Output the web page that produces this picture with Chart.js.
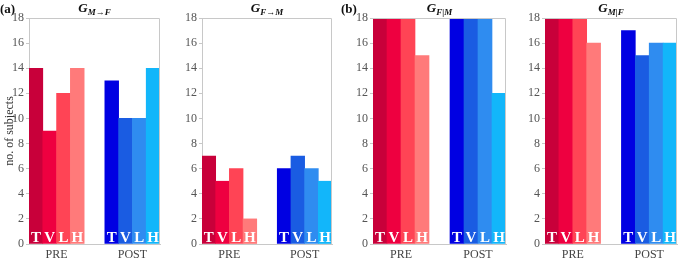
<!DOCTYPE html>
<html>
<head>
<meta charset="utf-8">
<script src="https://cdn.jsdelivr.net/npm/chart.js@4"></script>
<style>
  body { margin: 0; background: #fff; }
  #wrap { position: relative; width: 678px; height: 260px; overflow: hidden; font-family: "Liberation Serif", serif; }
  #wrap canvas { position: absolute; top: 0; }
  .ttl { position: absolute; top: 0px; text-align: center; font-weight: bold; font-style: italic; font-size: 13px; color: #111; white-space: nowrap; }
  .ttl sub { font-size: 9px; vertical-align: -3px; }
  .tag { position: absolute; top: 1px; font-weight: bold; font-size: 13px; color: #111; }
</style>
</head>
<body>
<div id="wrap">
  <canvas id="c1" width="163" height="260" style="left:0px"></canvas>
  <canvas id="c2" width="160" height="260" style="left:175px"></canvas>
  <canvas id="c3" width="163" height="260" style="left:346px"></canvas>
  <canvas id="c4" width="160" height="260" style="left:518px"></canvas>
  <div class="tag" style="left:0px">(a)</div>
  <div class="tag" style="left:341px">(b)</div>
  <div class="ttl" style="left:29px;width:131px">G<sub>M→F</sub></div>
  <div class="ttl" style="left:202px;width:130px">G<sub>F→M</sub></div>
  <div class="ttl" style="left:373px;width:133px">G<sub>F|M</sub></div>
  <div class="ttl" style="left:545px;width:132px">G<sub>M|F</sub></div>
</div>
<script>
const groups = ["PRE", "POST"];
const letters = ["T", "V", "L", "H"];
const yTicks = [0, 2, 4, 6, 8, 10, 12, 14, 16, 18];

// G M->F
const mfPre = [14, 9, 12, 14];
const mfPost = [13, 10, 10, 14];
// G F->M
const fmPre = [7, 5, 6, 2];
const fmPost = [6, 7, 6, 5];
// G F|M
const fgmPre = [18, 18, 18, 15];
const fgmPost = [18, 18, 18, 12];
// G M|F
const mgfPre = [18, 18, 18, 16];
const mgfPost = [17, 15, 16, 16];

const preColors = ["#c8003a", "#ee0040", "#ff4455", "#ff7a7a"];
const postColors = ["#0000e2", "#1a5ce2", "#2f8cf0", "#12b6fa"];
const spine = "#c8c8c8";
const serif = "'Liberation Serif', serif";

// bars sit side by side, POST group shifted by 4 bars + 1.5 bar gap
function points(pre, post) {
  return pre.map((v, i) => ({ x: i + 1, y: v }))
    .concat(post.map((v, i) => ({ x: i + 6.5, y: v })));
}

const boxPlugin = {
  id: "box",
  afterDatasetsDraw(chart) {
    const { ctx, chartArea: a } = chart;
    const meta = chart.getDatasetMeta(0);
    ctx.save();
    ctx.fillStyle = "#fff";
    ctx.font = "bold 15px " + serif;
    ctx.textAlign = "center";
    ctx.textBaseline = "alphabetic";
    meta.data.forEach((bar, i) => {
      ctx.fillText(letters[i % 4], bar.x, a.bottom - 2);
    });
    ctx.strokeStyle = spine;
    ctx.lineWidth = 1;
    ctx.beginPath();
    ctx.moveTo(a.left, a.top + 0.5);
    ctx.lineTo(a.right - 0.5, a.top + 0.5);
    ctx.lineTo(a.right - 0.5, a.bottom);
    ctx.stroke();
    ctx.restore();
  }
};

function makeChart(id, pre, post, yWidth, padRight, withTitle) {
  new Chart(document.getElementById(id), {
    type: "bar",
    data: {
      datasets: [{
        data: points(pre, post),
        backgroundColor: preColors.concat(postColors),
        borderWidth: 0,
        barPercentage: 1,
        categoryPercentage: 1
      }]
    },
    options: {
      responsive: false,
      animation: false,
      layout: { padding: { top: 18, right: padRight, bottom: 0, left: 0 } },
      plugins: { legend: { display: false }, tooltip: { enabled: false } },
      scales: {
        x: {
          type: "linear",
          min: 0.5,
          max: 10,
          offset: false,
          grid: { display: false, drawTicks: false, tickLength: 0 },
          border: { display: true, color: spine },
          afterBuildTicks: s => { s.ticks = [{ value: 2.5 }, { value: 8 }]; },
          afterFit: s => { s.height = 16; },
          ticks: {
            padding: 4,
            color: "#444",
            font: { family: serif, size: 12 },
            callback: (v, i) => groups[i]
          }
        },
        y: {
          min: 0,
          max: 18,
          grid: { drawOnChartArea: false, tickLength: 3, color: spine },
          border: { color: spine },
          afterBuildTicks: s => { s.ticks = yTicks.map(v => ({ value: v })); },
          afterFit: s => { s.width = yWidth; },
          ticks: {
            padding: 2,
            color: "#555",
            font: { family: serif, size: 12 }
          },
          title: {
            display: withTitle,
            text: "no. of subjects",
            color: "#333",
            font: { family: serif, size: 12 },
            padding: { top: 3, bottom: 0 }
          }
        }
      }
    },
    plugins: [boxPlugin]
  });
}

makeChart("c1", mfPre, mfPost, 29, 3, true);
makeChart("c2", fmPre, fmPost, 27, 3, false);
makeChart("c3", fgmPre, fgmPost, 27, 3, false);
makeChart("c4", mgfPre, mgfPost, 27, 1, false);
</script>
</body>
</html>
